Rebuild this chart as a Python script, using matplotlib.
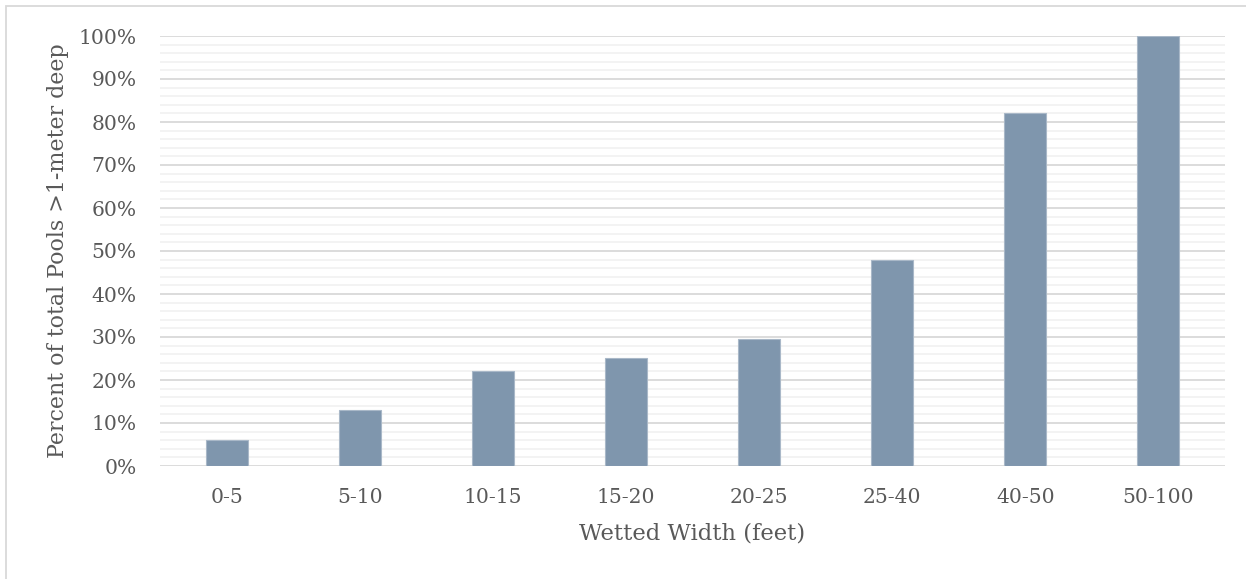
import matplotlib
matplotlib.use("Agg")
import matplotlib.pyplot as plt
from matplotlib.ticker import MultipleLocator, PercentFormatter
from matplotlib.patches import Rectangle

categories = ["0-5", "5-10", "10-15", "15-20", "20-25", "25-40", "40-50", "50-100"]
values = [6.0, 13.0, 22.2, 25.1, 29.6, 47.8, 82.0, 100.0]

plt.rcParams['font.family'] = ['DejaVu Serif']
text_color = "#595959"

fig = plt.figure(figsize=(12.46, 5.79), dpi=100)
ax = fig.add_axes([160/1246, 1-466/579, (1225-160)/1246, 430/579])

x = range(len(categories))
ax.bar(x, values, width=0.315, color="#7F96AD", edgecolor="#A9B8C8", linewidth=0.8, zorder=3)

ax.set_xlim(-0.5, len(categories) - 0.5)
ax.set_ylim(0, 100)
ax.yaxis.set_major_locator(MultipleLocator(10))
ax.yaxis.set_minor_locator(MultipleLocator(2))
ax.yaxis.set_major_formatter(PercentFormatter(decimals=0))
ax.grid(axis="y", which="major", color="#D9D9D9", linewidth=1.3, zorder=0)
ax.grid(axis="y", which="minor", color="#F2F2F2", linewidth=1.3, zorder=0)
ax.set_xticks(list(x))
ax.set_xticklabels(categories)
for s in ax.spines.values():
    s.set_visible(False)
ax.tick_params(axis="both", which="both", length=0, labelsize=14.6, colors=text_color)
ax.tick_params(axis="x", pad=16)
ax.tick_params(axis="y", pad=17)
ax.set_xlabel("Wetted Width (feet)", fontsize=16.3, color=text_color, labelpad=11)
ax.set_ylabel("Percent of total Pools >1-meter deep", fontsize=15.9, color=text_color, labelpad=7)

fig.patches.append(Rectangle((6/1246, -0.05), 1.1, 1 - 6/579 + 0.05, transform=fig.transFigure,
                             fill=False, edgecolor="#D9D9D9", linewidth=1.3))

fig.savefig("out.png", dpi=100)
